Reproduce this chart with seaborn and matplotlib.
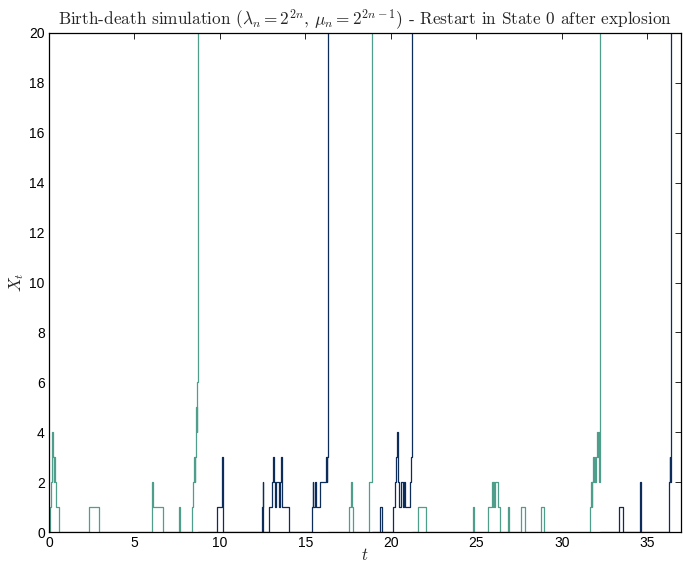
import numpy as np
import pandas as pd
import matplotlib
matplotlib.use("Agg")
import matplotlib.pyplot as plt
import seaborn as sns

# ---- data: one run segment per "life" between explosions (25 = exploded, off-chart) ----
seg1_t = [0.0, 0.08, 0.11, 0.15, 0.19, 0.24, 0.27, 0.32, 0.37, 0.42, 0.58, 2.36, 2.93,
          6.00, 6.03, 6.10, 6.65, 7.58, 7.66, 8.36, 8.44, 8.50, 8.53, 8.56, 8.60, 8.62,
          8.64, 8.66, 8.68, 8.70]
seg1_x = [0, 1, 2, 3, 4, 3, 2, 3, 2, 1, 0, 1, 0,
          1, 2, 1, 0, 1, 0, 1, 2, 3, 2, 3, 4, 5,
          4, 5, 6, 25]

seg2_t = [8.70, 9.84, 10.12, 10.14, 10.18, 12.44, 12.50, 12.53, 12.88, 13.06, 13.08, 13.14,
          13.20, 13.30, 13.45, 13.50, 13.57, 13.63, 13.66, 14.04, 15.36, 15.42, 15.47,
          15.55, 15.60, 15.85, 16.20, 16.24, 16.27, 16.30, 16.32, 16.34]
seg2_x = [0, 1, 2, 3, 0, 1, 2, 0, 1, 2, 3, 2,
          1, 2, 1, 2, 3, 2, 1, 0, 1, 2, 1,
          2, 1, 2, 3, 2, 3, 4, 5, 25]

seg3_t = [16.34, 17.54, 17.66, 17.72, 17.80, 18.70, 18.75, 18.90]
seg3_x = [0, 1, 2, 1, 0, 1, 2, 25]

seg4_t = [18.90, 19.36, 19.47, 20.10, 20.27, 20.32, 20.36, 20.39, 20.42, 20.50, 20.60,
          20.70, 20.78, 20.85, 21.15, 21.20, 21.22, 21.24]
seg4_x = [0, 1, 0, 1, 2, 3, 4, 3, 2, 1, 2,
          1, 2, 1, 2, 3, 4, 25]

seg5_t = [21.24, 21.56, 22.08, 24.78, 24.84, 25.67, 25.91, 25.97, 26.00, 26.05, 26.10,
          26.27, 26.41, 26.86, 26.92, 27.62, 27.84, 28.79, 28.96, 31.64, 31.70, 31.74,
          31.78, 31.83, 31.88, 31.92, 31.96, 32.00, 32.06, 32.10, 32.15, 32.18, 32.20, 32.26]
seg5_x = [0, 1, 0, 1, 0, 1, 2, 1, 2, 1, 2,
          1, 0, 1, 0, 1, 0, 1, 0, 1, 2, 1,
          2, 3, 2, 3, 2, 3, 4, 3, 4, 3, 2, 25]

seg6_t = [32.26, 33.35, 33.58, 34.56, 34.60, 34.66, 36.26, 36.30, 36.32, 36.36, 36.38, 36.41]
seg6_x = [0, 1, 0, 1, 2, 0, 1, 2, 3, 2, 3, 25]

segments = {"1": (seg1_t, seg1_x), "2": (seg2_t, seg2_x), "3": (seg3_t, seg3_x),
            "4": (seg4_t, seg4_x), "5": (seg5_t, seg5_x), "6": (seg6_t, seg6_x)}

teal = "#4f9e8c"
navy = "#0c2c5a"
palette = {"1": teal, "2": navy, "3": teal, "4": navy, "5": teal, "6": navy}

df = pd.concat([pd.DataFrame({"t": t, "X": x, "seg": k}) for k, (t, x) in segments.items()],
               ignore_index=True)

x_ticks = [0, 5, 10, 15, 20, 25, 30, 35]
y_ticks = [0, 2, 4, 6, 8, 10, 12, 14, 16, 18, 20]

# ---- style ----
sns.set_style("white")
plt.rcParams["font.family"] = ["Liberation Sans", "DejaVu Sans"]
plt.rcParams["mathtext.fontset"] = "cm"

fig = plt.figure(figsize=(6.83, 5.66), dpi=100)
ax = fig.add_axes([0.0717, 0.0600, 0.926, 0.8817])

sns.lineplot(data=df, x="t", y="X", hue="seg", units="seg", estimator=None, sort=False,
             palette=palette, drawstyle="steps-post", linewidth=0.9, legend=False, ax=ax)

ax.set_xlim(0, 37.0)
ax.set_ylim(0, 20)
ax.set_xticks(x_ticks)
ax.set_yticks(y_ticks)
ax.tick_params(direction="in", top=True, right=True, length=4, width=0.6,
               labelsize=10, colors="black", pad=3)
for s in ax.spines.values():
    s.set_visible(True)
    s.set_color("black")
    s.set_linewidth(0.9)

ax.set_xlabel("$t$", fontsize=12, labelpad=-2)
ax.set_ylabel("$X_t$", fontsize=12, labelpad=2)
ax.set_title(r"Birth-death simulation ($\lambda_n = 2^{2n}$, $\mu_n = 2^{2n-1}$) - Restart in State 0 after explosion",
             fontsize=12.4, family="cmr10", pad=6)

fig.savefig("out.png", dpi=100)
